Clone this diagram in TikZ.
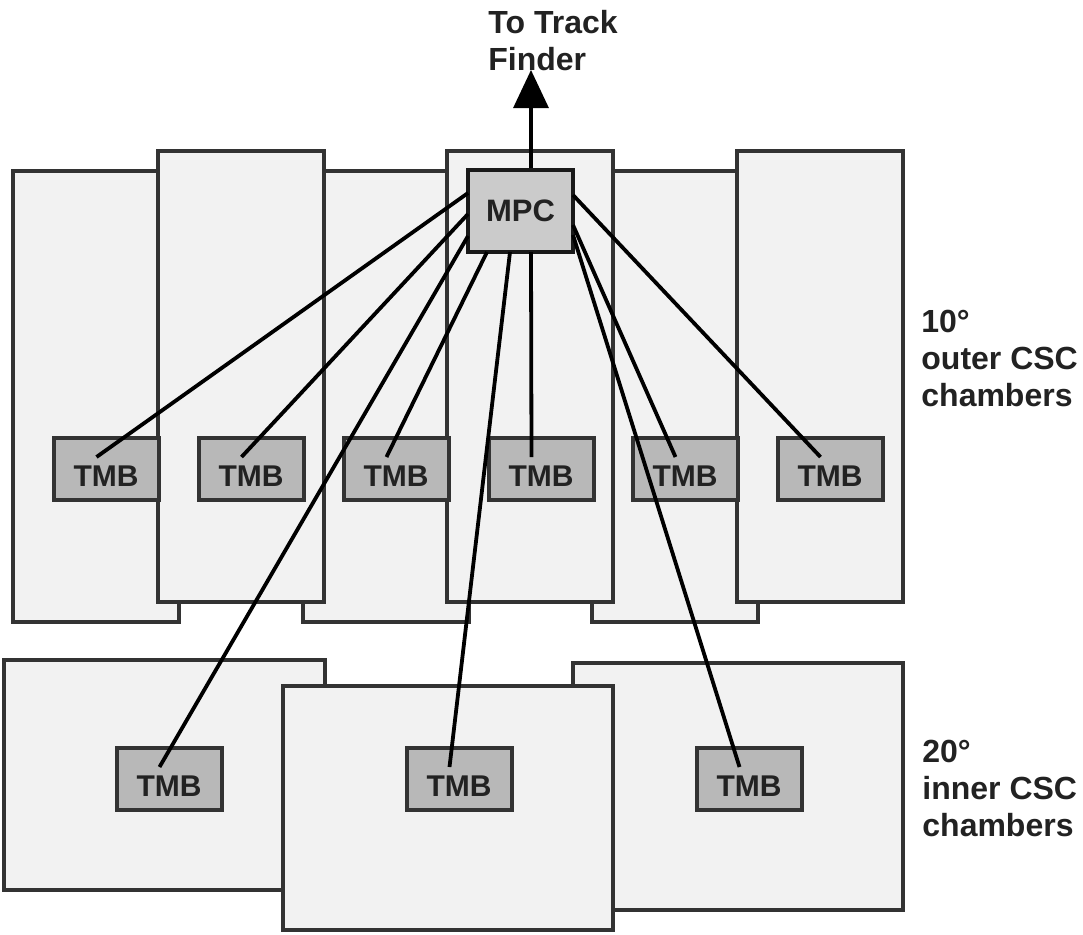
\documentclass[tikz,border=0pt]{standalone}
\usepackage{fontspec}
\setmainfont{Liberation Sans}
\usetikzlibrary{arrows.meta,calc}
\definecolor{ink}{HTML}{222222}
\definecolor{edge}{HTML}{333333}
\definecolor{panel}{HTML}{F2F2F2}
\definecolor{board}{HTML}{B8B8B8}
\definecolor{hub}{HTML}{CBCBCB}

\tikzset{
  chamber/.style={fill=panel,draw=edge,line width=2pt},
  tmb/.style={draw=edge,fill=board,line width=2pt,inner sep=0pt,
    minimum width=52.5pt,minimum height=31pt,text height=17.5pt,text depth=0pt,
    font=\fontsize{15}{18}\selectfont\bfseries},
  mpc/.style={draw=black!90,fill=hub,line width=2pt,inner sep=0pt,
    minimum width=52.5pt,minimum height=41pt,
    font=\fontsize{15.5}{18}\selectfont\bfseries},
  link/.style={black,line width=1.9pt},
  lab/.style={anchor=north west,inner sep=0pt,align=left,
    font=\fontsize{16}{18.5}\selectfont\bfseries}
}

\begin{document}
\begin{tikzpicture}[x=0.5pt,y=-0.5pt,ink]
  \useasboundingbox (0,0) rectangle (1083,934);

  % 10 degree chambers, back row then front row
  \foreach \xa in {13,303,592}
    \draw[chamber] (\xa,171) rectangle ++(166,451);
  \foreach \xa in {158,447,737}
    \draw[chamber] (\xa,151) rectangle ++(166,451);

  % 20 degree chambers
  \draw[chamber] (4,660) rectangle (325,890);
  \draw[chamber] (573,663) rectangle (903,910);
  \draw[chamber] (283,686) rectangle (613,930);

  % trigger boards
  \foreach \i/\xc in {1/106,2/251,3/396,4/541,5/685,6/830}
    \node[tmb] (t\i) at (\xc,469) {TMB};
  \foreach \i/\xc in {1/169,2/459,3/749}
    \node[tmb] (u\i) at (\xc,779) {TMB};

  \node[mpc] (mpc) at (520.5,211) {MPC};

  % links MPC -> TMB
  \foreach \dx/\dy/\tg in {-52.5/-18/t1,-52.5/3/t2,-33.5/41/t3,10.5/41/t4,
      52.5/14/t5,52.5/-16/t6,-52.5/25/u1,-10.5/41/u2,52.5/24/u3}
    \draw[link] ($(mpc.center)+(\dx,\dy)$) -- ($(\tg.center)+(-9.5,-12)$);

  \coordinate (tip) at (531,70);
  \draw[link,line width=1.6pt,-{Triangle[length=19pt,width=17.5pt]}]
    ($(mpc.north)+(10.5,0)$) -- (tip);

  \node[lab] (tf) at (488,10) {To Track\\Finder};
  \node[lab] (outer) at (921,310) {10°\\outer CSC\\chambers};
  \node[lab] (inner) at (922,740) {20°\\inner CSC\\chambers};
\end{tikzpicture}
\end{document}
